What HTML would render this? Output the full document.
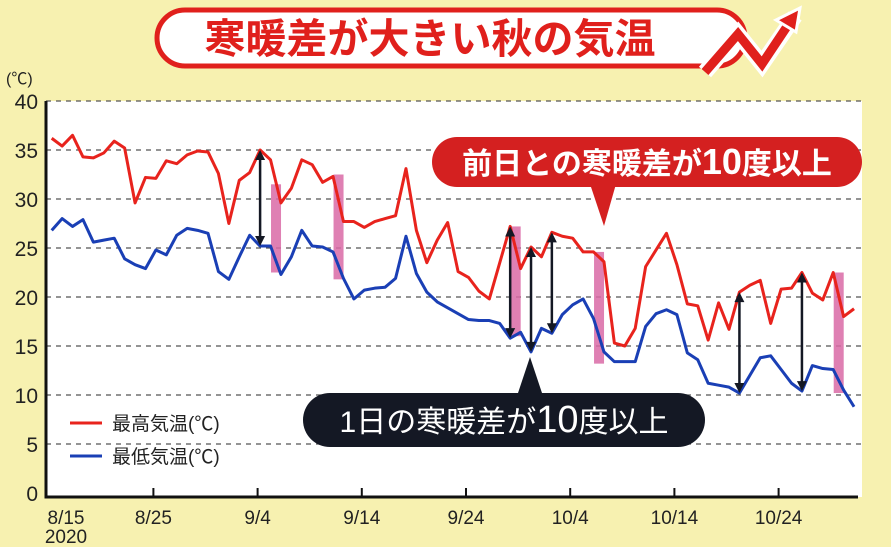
<!DOCTYPE html>
<html><head><meta charset="utf-8"><style>
body{margin:0;background:#f7f1b0;}
svg{display:block;font-family:"Liberation Sans","Noto Sans CJK JP",sans-serif;}
</style></head><body>
<svg width="891" height="547" viewBox="0 0 891 547">
<rect x="0" y="0" width="891" height="547" fill="#f7f1b0"/>
<rect x="46" y="101" width="816" height="396" fill="#ffffff"/>
<g id="grid"></g>
<g id="bands"></g>
<g id="series"></g>
<g id="arrows"></g>
<g id="axes"></g>
<!-- title -->
<rect x="157" y="10" width="588" height="56" rx="28" fill="#fff" stroke="#e0201c" stroke-width="5"/>
<text x="430" y="53" font-size="41" font-weight="bold" fill="#e0201c" text-anchor="middle">寒暖差が大きい秋の気温</text>
<polyline points="705,72 738,34 762,64 795,16" fill="none" stroke="#fff" stroke-width="16" stroke-linejoin="miter"/>
<polyline points="705,72 738,34 762,64 790,22" fill="none" stroke="#e0201c" stroke-width="9" stroke-linejoin="miter"/>
<polygon points="800,8 776,20 796,32" fill="#e0201c" stroke="#fff" stroke-width="3"/>
<!-- legend -->
<line x1="70" y1="423" x2="102" y2="423" stroke="#e8231d" stroke-width="3"/>
<text x="112" y="430" font-size="19" fill="#222">最高気温(℃)</text>
<line x1="70" y1="456" x2="102" y2="456" stroke="#1a3fb5" stroke-width="3"/>
<text x="112" y="463" font-size="19" fill="#222">最低気温(℃)</text>
<!-- callouts -->
<polygon points="590,184 616,184 604,226" fill="#d42020"/>
<rect x="432" y="137" width="430" height="50" rx="25" fill="#d42020"/>
<text x="647" y="174" font-size="30" font-weight="bold" fill="#fff" text-anchor="middle">前日との寒暖差が<tspan font-size="36">10</tspan>度以上</text>
<polygon points="517,396 543,396 530,357" fill="#141824"/>
<rect x="303" y="393" width="402" height="54" rx="27" fill="#141824"/>
<text x="504" y="432" font-size="30" fill="#fff" text-anchor="middle">1日の寒暖差が<tspan font-size="38">10</tspan>度以上</text>
</svg>
<script>
const dayLabels = ["8/15","8/25","9/4","9/14","9/24","10/4","10/14","10/24"];
const yTicks = [0,5,10,15,20,25,30,35,40];
const highTemps = [36.2,35.4,36.5,34.3,34.2,34.7,35.9,35.2,29.6,32.2,32.1,33.9,33.6,34.5,34.9,34.8,32.6,27.5,31.9,32.7,35.0,34.0,29.6,31.1,34.0,33.5,31.7,32.3,27.7,27.7,27.1,27.7,28.0,28.3,33.1,26.8,23.5,25.8,27.6,22.6,22.0,20.6,19.8,23.5,27.2,22.9,25.1,24.1,26.6,26.2,26.0,24.6,24.6,23.6,15.3,15.0,16.8,23.1,24.8,26.5,23.3,19.3,19.1,15.6,19.4,16.7,20.5,21.2,21.7,17.3,20.8,20.9,22.5,20.4,19.7,22.5,18.0,18.8];
const lowTemps = [26.8,28.0,27.2,27.9,25.6,25.8,26.0,23.9,23.3,22.9,24.8,24.3,26.3,27.0,26.8,26.5,22.6,21.8,24.1,26.3,25.2,25.2,22.3,24.1,26.8,25.2,25.1,24.6,21.9,19.8,20.7,20.9,21.0,21.9,26.2,22.4,20.5,19.5,18.9,18.3,17.7,17.6,17.6,17.3,15.8,16.4,14.4,16.8,16.3,18.2,19.2,19.8,17.8,14.4,13.4,13.4,13.4,17.0,18.3,18.7,18.2,14.3,13.6,11.2,11.0,10.8,10.2,12.0,13.8,14.0,12.6,11.2,10.4,13.0,12.7,12.6,10.5,8.8];
const dayRangeDays = [20,44,46,48,66,72];
const prevDayDrops = [[21,31.5,22.5],[27,32.5,21.8],[44,27.2,16.0],[52,24.6,13.2],[75,22.5,10.2]];

const NS="http://www.w3.org/2000/svg";
function x(i){return 51.7+10.42*i;}
function y(v){return 493-9.8*v;}
function mk(tag,attrs,parent){const e=document.createElementNS(NS,tag);for(const k in attrs)e.setAttribute(k,attrs[k]);parent.appendChild(e);return e;}
const grid=document.getElementById('grid'),bands=document.getElementById('bands'),series=document.getElementById('series'),arrows=document.getElementById('arrows'),axes=document.getElementById('axes');

yTicks.forEach(v=>{
  if(v>0){
    const l=mk('line',{x1:46,x2:862,y1:y(v),y2:y(v),stroke:'#555','stroke-width':1.3,'stroke-dasharray':'5,5'},grid);
    
    
  }
  const t=mk('text',{x:38,y:y(v)+8,'font-size':21,'text-anchor':'end',fill:'#222'},axes);
  t.textContent=v;
  
  
});
const unit=mk('text',{x:6,y:84,'font-size':16,fill:'#222'},axes);
unit.textContent='(℃)';



prevDayDrops.forEach((d,k)=>{
  const r=mk('rect',{x:x(d[0])+0.5,y:y(d[1]),width:10,height:y(d[2])-y(d[1]),fill:'#d96aa6',opacity:0.85},bands);
  
  
});

function line(vals,color,name){
  const p=mk('polyline',{points:vals.map((v,i)=>x(i)+','+y(v)).join(' '),fill:'none',stroke:color,'stroke-width':3,'stroke-linejoin':'round'},series);
  
  
}
line(highTemps,'#e8231d','high-temp-line');
line(lowTemps,'#1a3fb5','low-temp-line');

dayRangeDays.forEach((i,k)=>{
  const xi=x(i),y1=y(highTemps[i]),y2=y(lowTemps[i]);
  const g=mk('g',{},arrows);
  
  
  mk('line',{x1:xi,x2:xi,y1:y1+8,y2:y2-8,stroke:'#141824','stroke-width':2.5},g);
  mk('polygon',{points:`${xi-5},${y1+10} ${xi+5},${y1+10} ${xi},${y1}`,fill:'#141824'},g);
  mk('polygon',{points:`${xi-5},${y2-10} ${xi+5},${y2-10} ${xi},${y2}`,fill:'#141824'},g);
});

const ax=mk('path',{d:'M46,101 L46,497 L858,497',fill:'none',stroke:'#111','stroke-width':3},axes);


dayLabels.forEach((lab,k)=>{
  const xi=x(k*10)-2.5;
  if(k>0){
    const tk=mk('line',{x1:xi,x2:xi,y1:488,y2:497,stroke:'#111','stroke-width':2},axes);
    
    
  }
  const t=mk('text',{x:k==0?66:xi,y:524,'font-size':19,'text-anchor':'middle',fill:'#222'},axes);
  t.textContent=lab;
  
  
});
const yr=mk('text',{x:66,y:543,'font-size':19,'text-anchor':'middle',fill:'#222'},axes);
yr.textContent='2020';


</script>
</body></html>
